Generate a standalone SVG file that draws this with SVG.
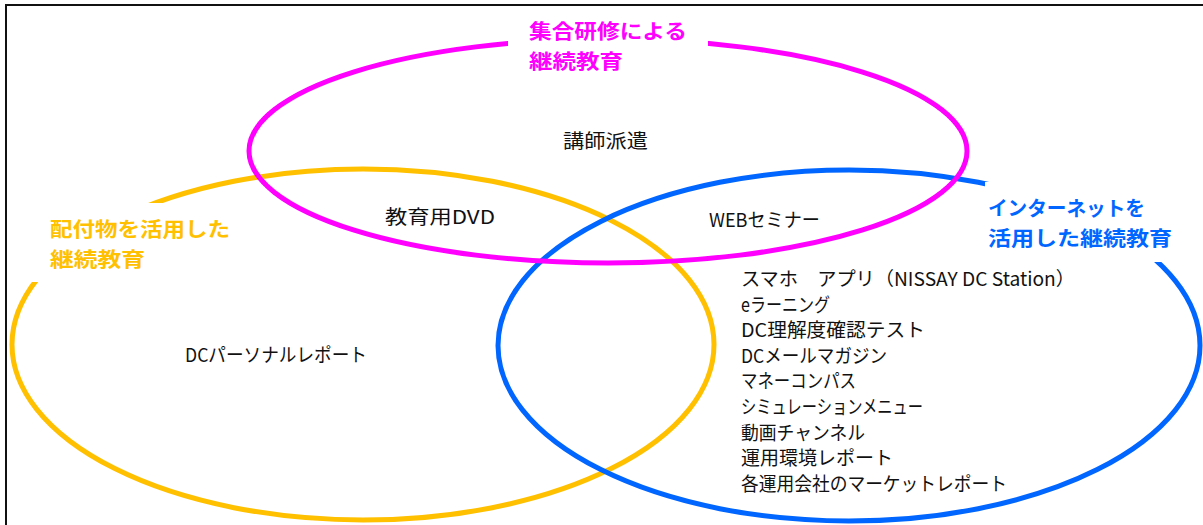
<svg xmlns="http://www.w3.org/2000/svg" width="1203" height="525" viewBox="0 0 1203 525">
<style>
.ring{fill:none;stroke-width:5}
.mask{fill:#fff;stroke:none}
.lbl{font-family:"Noto Sans CJK JP","Noto Sans",sans-serif;font-weight:bold;font-size:20px}
.txt{font-family:"Noto Sans CJK JP","Noto Sans",sans-serif;font-size:19px;fill:#111}
</style>
<rect x="0" y="0" width="1203" height="525" fill="#fff"/>
<rect x="6" y="5" width="1210" height="530" fill="none" stroke="#111" stroke-width="2"/>
<g id="connectors">
<ellipse id="ring-orange" class="ring" cx="363" cy="344.5" rx="351" ry="175.5" stroke="#FFC000"/>
<ellipse id="ring-blue" class="ring" cx="849" cy="345.5" rx="351" ry="175.5" stroke="#0066FF"/>
<ellipse id="ring-magenta" class="ring" cx="608" cy="151" rx="359" ry="112" stroke="#FF00FF"/>
</g>
<g id="label-shuugou">
<rect class="mask" x="508" y="12" width="200" height="63"/>
<text class="lbl" fill="#FF00FF"><tspan x="529" y="39" textLength="158" lengthAdjust="spacingAndGlyphs">集合研修による</tspan><tspan x="529" y="68.5" textLength="94" lengthAdjust="spacingAndGlyphs">継続教育</tspan></text>
</g>
<g id="label-haifu">
<rect class="mask" x="10" y="203" width="230" height="79"/>
<text class="lbl" fill="#FFC000"><tspan x="50" y="237" textLength="180" lengthAdjust="spacingAndGlyphs">配付物を活用した</tspan><tspan x="50" y="266.5" textLength="95" lengthAdjust="spacingAndGlyphs">継続教育</tspan></text>
</g>
<g id="label-internet">
<rect class="mask" x="985" y="182" width="218" height="80"/>
<text class="lbl" fill="#0066FF"><tspan x="988" y="216" textLength="157" lengthAdjust="spacingAndGlyphs">インターネットを</tspan><tspan x="988" y="245.5" textLength="184" lengthAdjust="spacingAndGlyphs">活用した継続教育</tspan></text>
</g>
<g id="node-koushi">
<text class="txt" x="563" y="148" textLength="85" lengthAdjust="spacingAndGlyphs">講師派遣</text>
</g>
<g id="node-dvd">
<text class="txt" x="385" y="224" textLength="110" lengthAdjust="spacingAndGlyphs">教育用DVD</text>
</g>
<g id="node-web">
<text class="txt" x="709" y="227" textLength="111" lengthAdjust="spacingAndGlyphs">WEBセミナー</text>
</g>
<g id="node-personal">
<text class="txt" x="185" y="362" textLength="182" lengthAdjust="spacingAndGlyphs">DCパーソナルレポート</text>
</g>
<g id="node-list">
<text class="txt" x="741" y="286" textLength="334" lengthAdjust="spacingAndGlyphs">スマホ　アプリ（NISSAY DC Station）</text>
<text class="txt" x="741" y="311.6" textLength="89" lengthAdjust="spacingAndGlyphs">eラーニング</text>
<text class="txt" x="741" y="337.2" textLength="184" lengthAdjust="spacingAndGlyphs">DC理解度確認テスト</text>
<text class="txt" x="741" y="362.8" textLength="146" lengthAdjust="spacingAndGlyphs">DCメールマガジン</text>
<text class="txt" x="741" y="388.4" textLength="115" lengthAdjust="spacingAndGlyphs">マネーコンパス</text>
<text class="txt" x="741" y="414" textLength="182" lengthAdjust="spacingAndGlyphs">シミュレーションメニュー</text>
<text class="txt" x="741" y="439.6" textLength="124" lengthAdjust="spacingAndGlyphs">動画チャンネル</text>
<text class="txt" x="741" y="465.2" textLength="152" lengthAdjust="spacingAndGlyphs">運用環境レポート</text>
<text class="txt" x="741" y="490.8" textLength="266" lengthAdjust="spacingAndGlyphs">各運用会社のマーケットレポート</text>
</g>
</svg>
